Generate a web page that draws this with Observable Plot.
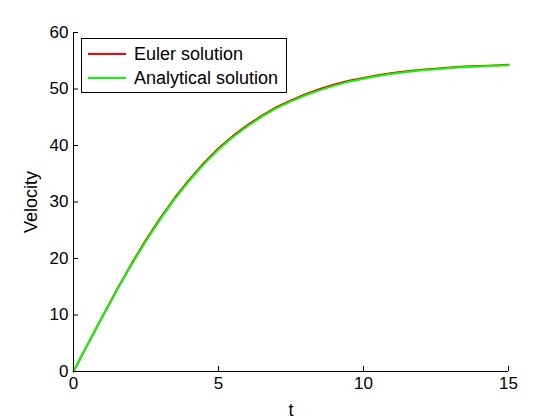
<!DOCTYPE html>
<html>
<head>
<meta charset="utf-8">
<script src="https://cdn.jsdelivr.net/npm/d3@7"></script>
<script src="https://cdn.jsdelivr.net/npm/@observablehq/plot@0.6"></script>
<style>
  html, body { margin: 0; padding: 0; background: #fff; }
  #wrap { position: relative; width: 560px; height: 420px; font-family: "Liberation Sans", Arial, Helvetica, sans-serif; }
  #legend { position: absolute; left: 81px; top: 38px; width: 204px; height: 53px; border: 1px solid #000; background: #fff; font-size: 18px; color: #000; }
  .row { position: absolute; left: 6px; height: 24px; display: flex; align-items: center; }
  .sw { width: 38px; height: 2px; margin-right: 8px; }
</style>
</head>
<body>
<div id="wrap"></div>
<script>
const tValues = [0,0.5,1,1.5,2,2.5,3,3.5,4,4.5,5,5.5,6,6.5,7,7.5,8,8.5,9,9.5,10,10.5,11,11.5,12,12.5,13,13.5,14,14.5,15];
const analyticalV = [0,4.9,9.7,14.4,18.9,23.1,27.0,30.6,33.8,36.7,39.3,41.5,43.4,45.1,46.6,47.8,48.9,49.8,50.6,51.3,51.8,52.3,52.7,53.0,53.3,53.5,53.7,53.9,54.0,54.1,54.2];
const eulerV = [0,4.92,9.75,14.5,19.05,23.3,27.2,30.8,34.0,36.9,39.5,41.7,43.6,45.3,46.8,48.0,49.1,50.0,50.8,51.45,51.95,52.45,52.85,53.15,53.4,53.6,53.8,53.97,54.07,54.17,54.27];
const xTicks = [0,5,10,15];
const yTicks = [0,10,20,30,40,50,60];
const seriesNames = ["Euler solution","Analytical solution"];
const seriesColors = ["#ff0000","#00ff00"];

const euler = tValues.map((t,i) => ({t, v: eulerV[i]}));
const analytical = tValues.map((t,i) => ({t, v: analyticalV[i]}));

const chart = Plot.plot({
  width: 560,
  height: 420,
  marginLeft: 73,
  marginRight: 52,
  marginTop: 32,
  marginBottom: 49,
  style: {fontFamily: '"Liberation Sans", Arial, Helvetica, sans-serif', fontSize: "17px", background: "#fff", color: "#000", overflow: "visible"},
  x: {domain: [0,15]},
  y: {domain: [0,60]},
  marks: [
    Plot.line(euler, {x: "t", y: "v", stroke: seriesColors[0], strokeWidth: 2}),
    Plot.line(analytical, {x: "t", y: "v", stroke: seriesColors[1], strokeWidth: 2}),
    Plot.ruleX([0], {stroke: "#000"}),
    Plot.ruleY([0], {stroke: "#000"}),
    Plot.axisX({ticks: xTicks, tickSize: -5, tickPadding: 10, label: null, fontSize: 17}),
    Plot.axisY({ticks: yTicks, tickSize: -5, tickPadding: 10, label: null, fontSize: 17}),
    Plot.axisX({ticks: [], tickSize: 0, label: "t", labelAnchor: "center", labelArrow: "none", labelOffset: 44, fontSize: 18}),
    Plot.axisY({ticks: [], tickSize: 0, label: "Velocity", labelAnchor: "center", labelArrow: "none", labelOffset: 49, fontSize: 18})
  ]
});
const wrap = document.getElementById("wrap");
wrap.appendChild(chart);

const legend = document.createElement("div");
legend.id = "legend";
seriesNames.forEach((name, i) => {
  const row = document.createElement("div");
  row.className = "row";
  row.style.top = (3 + i * 24) + "px";
  const sw = document.createElement("span");
  sw.className = "sw";
  sw.style.background = seriesColors[i];
  const lab = document.createElement("span");
  lab.textContent = name;
  row.appendChild(sw);
  row.appendChild(lab);
  legend.appendChild(row);
});
wrap.appendChild(legend);
</script>
</body>
</html>
